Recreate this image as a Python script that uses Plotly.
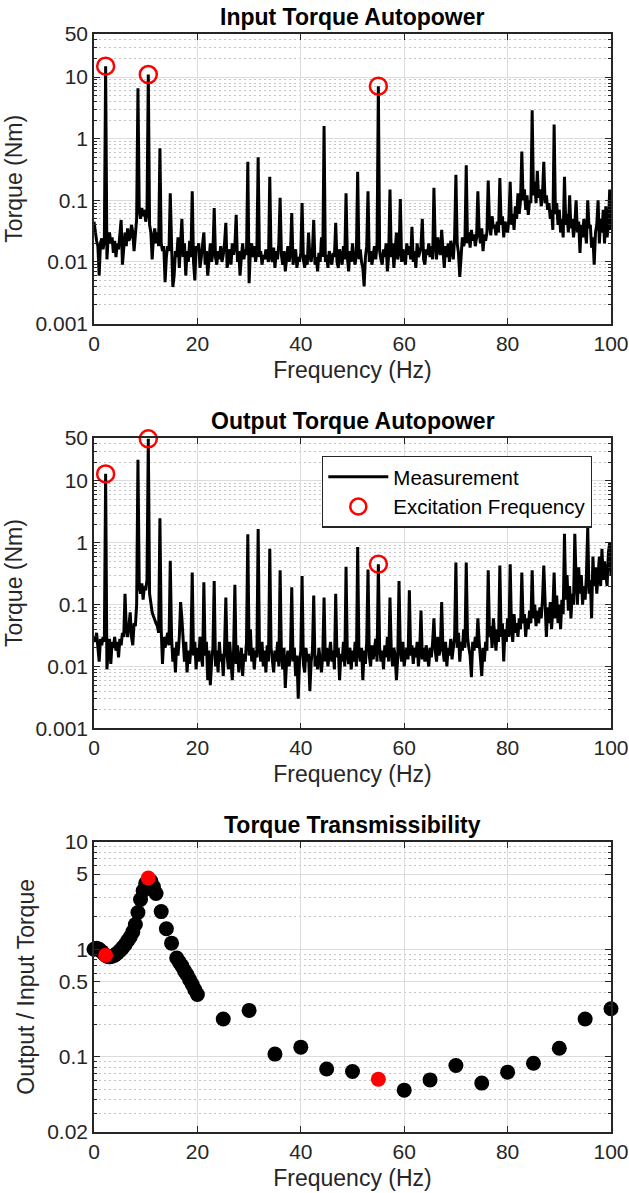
import plotly.graph_objects as go
from plotly.subplots import make_subplots

# ---------------- data ----------------
FREQ_STEP = 0.25  # Hz, spectral line spacing of the autopower spectra

# Input torque autopower (Nm), one row per Hz (0, .25, .5, .75)
input_autopower = [
    0.045, 0.03, 0.022, 0.018,   # 0
    0.006, 0.02, 0.024, 0.016,   # 1
    0.022, 15, 0.011, 0.026,     # 2
    0.03, 0.02, 0.025, 0.014,    # 3
    0.022, 0.012, 0.02, 0.016,   # 4
    0.028, 0.048, 0.009, 0.02,   # 5
    0.03, 0.018, 0.035, 0.022,   # 6
    0.025, 0.04, 0.03, 0.015,    # 7
    0.028, 0.05, 6.6, 0.07,      # 8
    0.05, 0.075, 0.055, 0.07,    # 9
    0.045, 0.06, 11, 0.04,       # 10
    0.03, 0.011, 0.025, 0.035,   # 11
    0.02, 0.03, 0.018, 0.7,      # 12
    0.02, 0.015, 0.018, 0.0047,  # 13
    0.012, 0.018, 0.015, 0.13,   # 14
    0.02, 0.0039, 0.006, 0.015,  # 15
    0.012, 0.025, 0.008, 0.02,   # 16
    0.05, 0.012, 0.02, 0.006,    # 17
    0.015, 0.01, 0.022, 0.012,   # 18
    0.14, 0.01, 0.005, 0.018,    # 19
    0.015, 0.02, 0.008, 0.012,   # 20
    0.018, 0.03, 0.009, 0.015,   # 21
    0.006, 0.012, 0.02, 0.01,    # 22
    0.014, 0.075, 0.012, 0.009,  # 23
    0.015, 0.011, 0.018, 0.01,   # 24
    0.013, 0.02, 0.043, 0.008,   # 25
    0.012, 0.016, 0.009, 0.02,   # 26
    0.013, 0.018, 0.058, 0.01,   # 27
    0.015, 0.006, 0.012, 0.02,   # 28
    0.011, 0.016, 0.013, 0.42,   # 29
    0.0045, 0.015, 0.02, 0.012,  # 30
    0.018, 0.01, 0.014, 0.5,     # 31
    0.012, 0.015, 0.009, 0.013,  # 32
    0.011, 0.016, 0.012, 0.01,   # 33
    0.24, 0.012, 0.01, 0.017,    # 34
    0.008, 0.015, 0.011, 0.02,   # 35
    0.11, 0.013, 0.009, 0.015,   # 36
    0.007, 0.012, 0.018, 0.01,   # 37
    0.014, 0.062, 0.009, 0.013,  # 38
    0.016, 0.008, 0.012, 0.01,   # 39
    0.014, 0.09, 0.011, 0.008,   # 40
    0.013, 0.009, 0.03, 0.012,   # 41
    0.01, 0.015, 0.048, 0.009,   # 42
    0.012, 0.007, 0.014, 0.01,   # 43
    0.025, 0.012, 1.6, 0.01,     # 44
    0.013, 0.008, 0.015, 0.011,  # 45
    0.009, 0.014, 0.012, 0.043,  # 46
    0.01, 0.008, 0.016, 0.012,   # 47
    0.009, 0.018, 0.011, 0.13,   # 48
    0.012, 0.007, 0.015, 0.01,   # 49
    0.02, 0.012, 0.009, 0.014,   # 50
    0.29, 0.011, 0.016, 0.01,    # 51
    0.008, 0.004, 0.012, 0.018,  # 52
    0.14, 0.01, 0.015, 0.009,    # 53
    0.012, 0.018, 0.011, 0.02,   # 54
    7.1, 0.015, 0.011, 0.009,    # 55
    0.016, 0.012, 0.02, 0.007,   # 56
    0.013, 0.15, 0.012, 0.02,    # 57
    0.008, 0.015, 0.03, 0.011,   # 58
    0.014, 0.105, 0.01, 0.016,   # 59
    0.012, 0.009, 0.02, 0.013,   # 60
    0.018, 0.011, 0.037, 0.01,   # 61
    0.015, 0.008, 0.02, 0.012,   # 62
    0.014, 0.018, 0.05, 0.011,   # 63
    0.009, 0.016, 0.013, 0.02,   # 64
    0.012, 0.018, 0.011, 0.16,   # 65
    0.02, 0.011, 0.025, 0.015,   # 66
    0.013, 0.033, 0.016, 0.008,  # 67
    0.018, 0.012, 0.02, 0.01,    # 68
    0.022, 0.015, 0.011, 0.025,  # 69
    0.26, 0.02, 0.014, 0.0057,   # 70
    0.016, 0.025, 0.018, 0.022,  # 71
    0.37, 0.02, 0.03, 0.017,     # 72
    0.033, 0.022, 0.028, 0.018,  # 73
    0.025, 0.14, 0.03, 0.02,     # 74
    0.035, 0.015, 0.028, 0.022,  # 75
    0.03, 0.21, 0.04, 0.027,     # 76
    0.055, 0.035, 0.04, 0.027,   # 77
    0.045, 0.03, 0.23, 0.04,     # 78
    0.055, 0.025, 0.045, 0.035,  # 79
    0.03, 0.05, 0.2, 0.04,       # 80
    0.06, 0.033, 0.08, 0.05,     # 81
    0.13, 0.06, 0.1, 0.62,       # 82
    0.1, 0.15, 0.07, 0.12,       # 83
    0.058, 0.1, 0.09, 2.9,       # 84
    0.12, 0.2, 0.09, 0.3,        # 85
    0.11, 0.15, 0.08, 0.13,      # 86
    0.42, 0.09, 0.12, 0.07,      # 87
    0.09, 0.05, 0.07, 0.033,     # 88
    1.7, 0.06, 0.09, 0.04,       # 89
    0.07, 0.03, 0.05, 0.025,     # 90
    0.24, 0.04, 0.06, 0.03,      # 91
    0.12, 0.035, 0.05, 0.025,    # 92
    0.04, 0.1, 0.03, 0.045,      # 93
    0.014, 0.04, 0.025, 0.05,    # 94
    0.03, 0.02, 0.1, 0.035,      # 95
    0.04, 0.017, 0.025, 0.009,   # 96
    0.03, 0.04, 0.1, 0.02,       # 97
    0.05, 0.03, 0.07, 0.02,      # 98
    0.08, 0.025, 0.04, 0.15,     # 99
    0.033,                       # 100
]

# Output torque autopower (Nm)
output_autopower = [
    0.03, 0.025, 0.035, 0.02,    # 0
    0.012, 0.028, 0.022, 0.03,   # 1
    0.025, 13, 0.009, 0.02,      # 2
    0.028, 0.011, 0.025, 0.02,   # 3
    0.03, 0.018, 0.025, 0.014,   # 4
    0.028, 0.022, 0.035, 0.03,   # 5
    0.15, 0.04, 0.03, 0.045,     # 6
    0.075, 0.03, 0.022, 0.05,    # 7
    0.045, 0.1, 22, 0.2,         # 8
    0.15, 0.22, 0.12, 0.2,       # 9
    0.17, 0.25, 48, 0.15,        # 10
    0.1, 0.075, 0.065, 0.055,    # 11
    0.05, 0.045, 0.035, 2.5,     # 12
    0.04, 0.011, 0.03, 0.02,     # 13
    0.025, 0.035, 0.022, 0.51,   # 14
    0.03, 0.012, 0.02, 0.008,    # 15
    0.025, 0.015, 0.03, 0.11,    # 16
    0.06, 0.02, 0.012, 0.025,    # 17
    0.008, 0.018, 0.011, 0.02,   # 18
    0.33, 0.015, 0.025, 0.009,   # 19
    0.02, 0.012, 0.03, 0.015,    # 20
    0.01, 0.23, 0.015, 0.025,    # 21
    0.006, 0.018, 0.005, 0.012,  # 22
    0.02, 0.24, 0.01, 0.018,     # 23
    0.008, 0.025, 0.012, 0.016,  # 24
    0.007, 0.02, 0.13, 0.015,    # 25
    0.009, 0.025, 0.012, 0.006,  # 26
    0.018, 0.21, 0.011, 0.022,   # 27
    0.008, 0.015, 0.02, 0.007,   # 28
    0.016, 0.012, 0.025, 1.37,   # 29
    0.015, 0.04, 0.012, 0.02,    # 30
    0.009, 0.018, 0.014, 1.67,   # 31
    0.02, 0.012, 0.025, 0.01,    # 32
    0.018, 0.008, 0.022, 0.012,  # 33
    0.8, 0.02, 0.013, 0.008,     # 34
    0.018, 0.012, 0.025, 0.01,   # 35
    0.36, 0.015, 0.009, 0.02,    # 36
    0.0045, 0.012, 0.018, 0.01,  # 37
    0.016, 0.19, 0.012, 0.02,    # 38
    0.007, 0.015, 0.003, 0.012,  # 39
    0.018, 0.29, 0.011, 0.008,   # 40
    0.02, 0.012, 0.016, 0.004,   # 41
    0.012, 0.018, 0.14, 0.01,    # 42
    0.015, 0.009, 0.02, 0.012,   # 43
    0.008, 0.016, 0.13, 0.012,   # 44
    0.02, 0.01, 0.015, 0.025,    # 45
    0.012, 0.018, 0.009, 0.15,   # 46
    0.014, 0.02, 0.006, 0.016,   # 47
    0.012, 0.025, 0.01, 0.41,    # 48
    0.015, 0.011, 0.02, 0.009,   # 49
    0.018, 0.012, 0.025, 0.01,   # 50
    0.85, 0.016, 0.012, 0.02,    # 51
    0.006, 0.018, 0.011, 0.025,  # 52
    0.37, 0.015, 0.01, 0.022,    # 53
    0.013, 0.018, 0.028, 0.012,  # 54
    0.45, 0.02, 0.012, 0.018,    # 55
    0.009, 0.022, 0.014, 0.03,   # 56
    0.012, 0.13, 0.018, 0.01,    # 57
    0.02, 0.015, 0.006, 0.014,   # 58
    0.24, 0.018, 0.012, 0.025,   # 59
    0.01, 0.016, 0.02, 0.013,    # 60
    0.17, 0.015, 0.022, 0.011,   # 61
    0.02, 0.014, 0.025, 0.01,    # 62
    0.018, 0.08, 0.013, 0.02,    # 63
    0.012, 0.022, 0.016, 0.01,   # 64
    0.02, 0.014, 0.025, 0.06,    # 65
    0.018, 0.012, 0.03, 0.015,   # 66
    0.02, 0.11, 0.018, 0.012,    # 67
    0.025, 0.01, 0.02, 0.015,    # 68
    0.028, 0.013, 0.02, 0.03,    # 69
    0.48, 0.02, 0.035, 0.012,    # 70
    0.025, 0.018, 0.04, 0.02,    # 71
    0.48, 0.03, 0.02, 0.015,     # 72
    0.0067, 0.025, 0.018, 0.03,  # 73
    0.02, 0.06, 0.025, 0.015,    # 74
    0.007, 0.02, 0.012, 0.025,   # 75
    0.018, 0.36, 0.03, 0.045,    # 76
    0.02, 0.06, 0.035, 0.018,    # 77
    0.04, 0.025, 0.43, 0.03,     # 78
    0.05, 0.012, 0.04, 0.025,    # 79
    0.06, 0.03, 0.45, 0.04,      # 80
    0.025, 0.07, 0.035, 0.05,    # 81
    0.03, 0.06, 0.04, 0.33,      # 82
    0.05, 0.07, 0.03, 0.06,      # 83
    0.04, 0.08, 0.05, 0.36,      # 84
    0.06, 0.1, 0.045, 0.08,      # 85
    0.05, 0.09, 0.06, 0.12,      # 86
    0.43, 0.07, 0.03, 0.09,      # 87
    0.05, 0.11, 0.04, 0.08,      # 88
    0.33, 0.06, 0.14, 0.05,      # 89
    0.1, 0.04, 0.12, 0.07,       # 90
    1.4, 0.12, 0.3, 0.08,        # 91
    0.2, 0.06, 0.15, 0.1,        # 92
    1.4, 0.25, 0.1, 0.4,         # 93
    0.15, 0.3, 0.1, 0.2,         # 94
    0.12, 0.3, 1.8, 0.15,        # 95
    0.25, 0.06, 0.6, 0.2,        # 96
    0.4, 0.15, 0.3, 0.6,         # 97
    0.2, 0.8, 0.25, 0.5,         # 98
    0.3, 0.2, 0.7, 1.0,          # 99
    0.3,                         # 100
]

# Excitation frequencies and the autopower at those lines
exc_freq = [2.25, 10.5, 55.0]
exc_input = [15, 11, 7.1]
exc_output = [13, 48, 0.45]

# Transmissibility (output / input torque)
trans_freq = [0, 0.5, 1.0, 1.5, 2.0, 2.5, 3.0, 3.5, 4.0, 4.5, 5.0, 5.5, 6.0, 6.5,
              7.0, 7.5, 8.0, 8.5, 9.0, 9.5, 10.0, 11.0, 11.5, 12.0, 13.0, 14.0,
              15.0, 16.0, 16.5, 17.0, 17.5, 18.0, 18.5, 19.0, 19.5, 20.0,
              25, 30, 35, 40, 45, 50, 60, 65, 70, 75, 80, 85, 90, 95, 100]
trans_val = [1.0, 1.02, 1.0, 0.95, 0.9, 0.86, 0.85, 0.86, 0.88, 0.92, 0.97, 1.03,
             1.1, 1.2, 1.3, 1.45, 1.7, 2.2, 2.9, 3.5, 4.1, 4.3, 3.8, 3.3, 2.24,
             1.55, 1.14, 0.83, 0.76, 0.7, 0.63, 0.58, 0.52, 0.47, 0.42, 0.38,
             0.225, 0.27, 0.106, 0.123, 0.077, 0.073, 0.049, 0.061, 0.083, 0.057,
             0.072, 0.087, 0.12, 0.225, 0.28]
exc_trans = [0.88, 4.6, 0.062]

freq = [i * FREQ_STEP for i in range(len(input_autopower))]

# ---------------- layout helpers ----------------
W, H = 629, 1193
L, R, T, B = 94, 18, 34, 61
PH = H - T - B  # plot-area height in px


def dom(top_px, bot_px):
    return [(H - B - bot_px) / PH, (H - B - top_px) / PH]


FONT = "Liberation Sans, Arial, Helvetica, sans-serif"
AXC = "#262626"
TICK_SIZE = 21
LABEL_SIZE = 23

fig = make_subplots(rows=3, cols=1)

# Top: input autopower
fig.add_trace(go.Scatter(x=freq, y=input_autopower, mode="lines",
                         line=dict(color="black", width=3), showlegend=False),
              row=1, col=1)
fig.add_trace(go.Scatter(x=exc_freq, y=exc_input, mode="markers", cliponaxis=False,
                         marker=dict(symbol="circle-open", size=17, color="red",
                                     line=dict(width=2.5, color="red")),
                         showlegend=False), row=1, col=1)

# Middle: output autopower
fig.add_trace(go.Scatter(x=freq, y=output_autopower, mode="lines", name="Measurement",
                         line=dict(color="black", width=3), showlegend=True),
              row=2, col=1)
fig.add_trace(go.Scatter(x=exc_freq, y=exc_output, mode="markers", cliponaxis=False,
                         name="Excitation Frequency",
                         marker=dict(symbol="circle-open", size=17, color="red",
                                     line=dict(width=2.5, color="red")),
                         showlegend=True), row=2, col=1)

# Bottom: transmissibility
fig.add_trace(go.Scatter(x=trans_freq, y=trans_val, mode="markers",
                         marker=dict(size=15, color="black"), showlegend=False,
                         cliponaxis=False),
              row=3, col=1)
fig.add_trace(go.Scatter(x=exc_freq, y=exc_trans, mode="markers",
                         marker=dict(size=15, color="red"), showlegend=False,
                         cliponaxis=False),
              row=3, col=1)


def minor_vals(lo_exp, hi_exp, vmax):
    vals = []
    for e in range(lo_exp, hi_exp + 1):
        for k in range(2, 10):
            v = k * 10 ** e
            if v < vmax:
                vals.append(v)
    return vals


xaxis_common = dict(range=[0, 100], tickvals=[0, 20, 40, 60, 80, 100], automargin=False,
                    ticks="inside", ticklen=6, tickwidth=1.3, tickcolor=AXC,
                    showline=True, linecolor=AXC, linewidth=1.6, mirror="ticks",
                    showgrid=True, gridcolor="#dcdcdc", gridwidth=1, zeroline=False,
                    tickfont=dict(family=FONT, size=TICK_SIZE, color=AXC),
                    title=dict(text="Frequency (Hz)", standoff=8,
                               font=dict(family=FONT, size=LABEL_SIZE, color=AXC)))

minor_common = dict(ticks="inside", ticklen=3, tickwidth=1, tickcolor=AXC,
                    showgrid=True, gridcolor="#c4c4c4", gridwidth=1,
                    griddash="1.5px,3.5px")

spec_ticks = [0.001, 0.01, 0.1, 1, 10, 50]
spec_text = ["0.001", "0.01", "0.1", "1", "10", "50"]
trans_ticks = [0.02, 0.1, 0.5, 1, 5, 10]
trans_text = ["0.02", "0.1", "0.5", "1", "5", "10"]

yaxis_common = dict(type="log", automargin=False,
                    ticks="inside", ticklen=6, tickwidth=1.3, tickcolor=AXC,
                    showline=True, linecolor=AXC, linewidth=1.6, mirror="ticks",
                    showgrid=True, gridcolor="#dcdcdc", gridwidth=1, zeroline=False,
                    tickfont=dict(family=FONT, size=TICK_SIZE, color=AXC))

domains = [dom(34, 323.5), dom(437.7, 728.3), dom(841.7, 1132)]

for i in range(3):
    n = "" if i == 0 else str(i + 1)
    fig.layout["xaxis" + n].update(**xaxis_common)
    fig.layout["xaxis" + n].domain = [0, 1]
    yax = dict(yaxis_common)
    if i < 2:
        yax.update(range=[-3, 1.69897], tickvals=spec_ticks, ticktext=spec_text,
                   minor=dict(tickmode="array", tickvals=minor_vals(-3, 1, 50), **minor_common),
                   title=dict(text="Torque (Nm)", standoff=6,
                              font=dict(family=FONT, size=LABEL_SIZE, color=AXC)))
    else:
        yax.update(range=[-1.69897, 1], tickvals=trans_ticks, ticktext=trans_text,
                   minor=dict(tickmode="array",
                              tickvals=[v for v in minor_vals(-2, 0, 10) if v > 0.02 and v not in (0.5, 5)],
                              **minor_common),
                   title=dict(text="Output / Input Torque", standoff=6,
                              font=dict(family=FONT, size=LABEL_SIZE, color=AXC)))
    fig.layout["yaxis" + n].update(**yax)
    fig.layout["yaxis" + n].domain = domains[i]

titles = ["Input Torque Autopower", "Output Torque Autopower", "Torque Transmissibility"]
for t, d in zip(titles, domains):
    fig.add_annotation(text="<b>%s</b>" % t, xref="paper", yref="paper", x=0.5, y=d[1],
                       xanchor="center", yanchor="bottom", yshift=2, showarrow=False,
                       font=dict(family=FONT, size=23, color="black"))

fig.update_layout(
    width=W, height=H,
    margin=dict(l=L, r=R, t=T, b=B, autoexpand=False),
    paper_bgcolor="white", plot_bgcolor="white",
    font=dict(family=FONT, color=AXC),
    legend=dict(x=(592 - L) / (W - L - R), y=(H - B - 455.7) / PH,
                xanchor="right", yanchor="top", bgcolor="white",
                bordercolor=AXC, borderwidth=1.3,
                font=dict(family=FONT, size=20.5, color="black"),
                itemwidth=60, tracegroupgap=0),
)

fig.write_html("out.html")
